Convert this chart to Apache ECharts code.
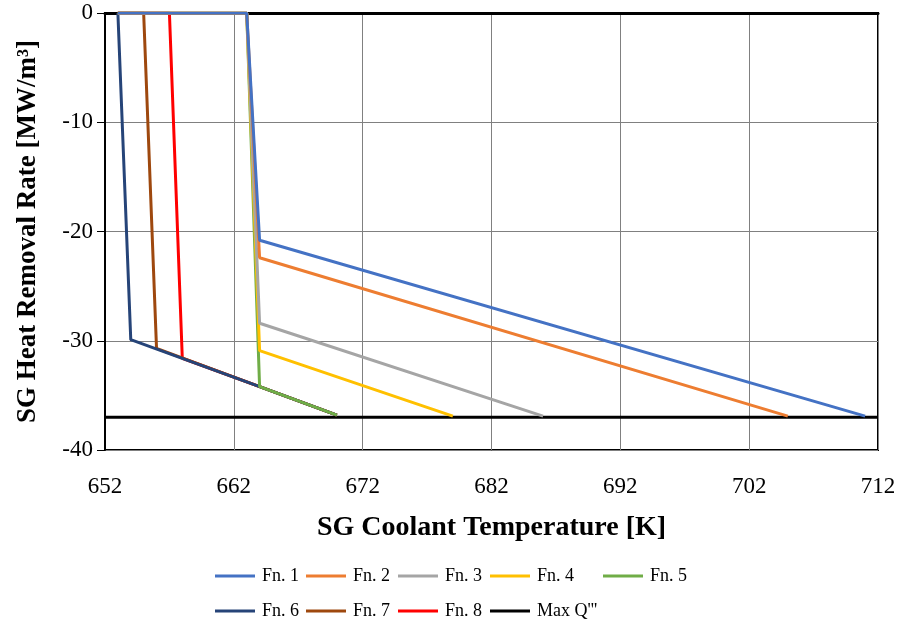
<!DOCTYPE html>
<html>
<head>
<meta charset="utf-8">
<script src="https://cdn.jsdelivr.net/npm/echarts@6/dist/echarts.min.js"></script>
<style>html,body{margin:0;padding:0;background:#fff;}#c{width:900px;height:628px;}</style>
</head>
<body>
<div id="c"></div>
<script>
const xTicks = [652, 662, 672, 682, 692, 702, 712];
const yTicks = [0, -10, -20, -30, -40];
const seriesNames = ["Fn. 1", "Fn. 2", "Fn. 3", "Fn. 4", "Fn. 5", "Fn. 6", "Fn. 7", "Fn. 8", "Max Q'''"];
const fn1 = [[653, 0], [663, 0], [664, -20.8], [711, -36.9]];
const fn2 = [[653, 0], [663, 0], [664, -22.4], [705, -36.9]];
const fn3 = [[653, 0], [663, 0], [664, -28.4], [686, -36.9]];
const fn4 = [[653, 0], [663, 0], [664, -30.9], [679, -36.9]];
const fn5 = [[653, 0], [663, 0], [664, -34.2], [670, -36.8]];
const fn6 = [[653, 0], [654, -29.9], [664, -34.2], [670, -36.8]];
const fn7 = [[653, 0], [655, 0], [656, -30.7], [664, -34.2], [670, -36.8]];
const fn8 = [[653, 0], [657, 0], [658, -31.6], [664, -34.2], [670, -36.8]];
const maxQ = [[652, -37], [712, -37]];
const colors = ["#4472C4", "#ED7D31", "#A5A5A5", "#FFC000", "#70AD47", "#264478", "#9E480E", "#FF0000", "#000000"];
const allData = [fn1, fn2, fn3, fn4, fn5, fn6, fn7, fn8, maxQ];

const FONT = "Liberation Serif";
const legendPos = [[215, 567], [306, 567], [398, 567], [490, 567], [603, 567], [215, 602], [306, 602], [398, 602], [490, 602]];

const series = [];
// draw in reverse order so Fn. 1 ends up on top
for (let i = allData.length - 1; i >= 0; i--) {
  series.push({
    name: seriesNames[i],
    type: 'line',
    data: allData[i],
    showSymbol: false,
    symbol: 'none',
    lineStyle: { color: colors[i], width: 3 },
    itemStyle: { color: colors[i] },
    animation: false,
    z: 2 + (allData.length - 1 - i) * 0.01
  });
}

const legends = seriesNames.map((n, i) => ({
  data: [n],
  left: legendPos[i][0],
  top: legendPos[i][1],
  icon: 'rect',
  itemWidth: 40,
  itemHeight: 3,
  itemGap: 0,
  textStyle: { fontFamily: FONT, fontSize: 18, color: '#000', padding: [0, 0, 0, 2] },
  padding: 0
}));

const chart = echarts.init(document.getElementById('c'), null, { renderer: 'canvas' });
chart.setOption({
  animation: false,
  backgroundColor: '#fff',
  color: colors,
  grid: { left: 105, right: 22, top: 13, bottom: 178, show: true, borderColor: '#000', borderWidth: 2, backgroundColor: 'transparent' },
  legend: legends,
  xAxis: [{
    type: 'value',
    min: xTicks[0],
    max: xTicks[xTicks.length - 1],
    interval: 10,
    name: 'SG Coolant Temperature [K]',
    nameLocation: 'middle',
    nameGap: 64,
    nameTextStyle: { fontFamily: FONT, fontSize: 28, fontWeight: 'bold', color: '#000' },
    axisLine: { show: false },
    axisTick: { show: false },
    axisLabel: { fontFamily: FONT, fontSize: 23, color: '#000', margin: 25 },
    splitLine: { show: true, lineStyle: { color: '#808080', width: 1 } }
  }, {
    type: 'value',
    position: 'top',
    min: xTicks[0],
    max: xTicks[xTicks.length - 1],
    interval: 10,
    axisLine: { show: true, onZero: false, lineStyle: { color: '#000', width: 3 } },
    axisTick: { show: false },
    axisLabel: { show: false },
    splitLine: { show: false }
  }],
  yAxis: {
    type: 'value',
    min: -40,
    max: 0,
    interval: 10,
    name: 'SG Heat Removal Rate [MW/m³]',
    nameLocation: 'middle',
    nameGap: 63,
    nameTextStyle: { fontFamily: FONT, fontSize: 27, fontWeight: 'bold', color: '#000' },
    axisLine: { show: true, onZero: false, lineStyle: { color: '#000', width: 2 } },
    axisTick: { show: true, length: 8, lineStyle: { color: '#000', width: 1 } },
    axisLabel: { fontFamily: FONT, fontSize: 23, color: '#000', margin: 12 },
    splitLine: { show: true, lineStyle: { color: '#808080', width: 1 } }
  },
  series: series
});
</script>
</body>
</html>
